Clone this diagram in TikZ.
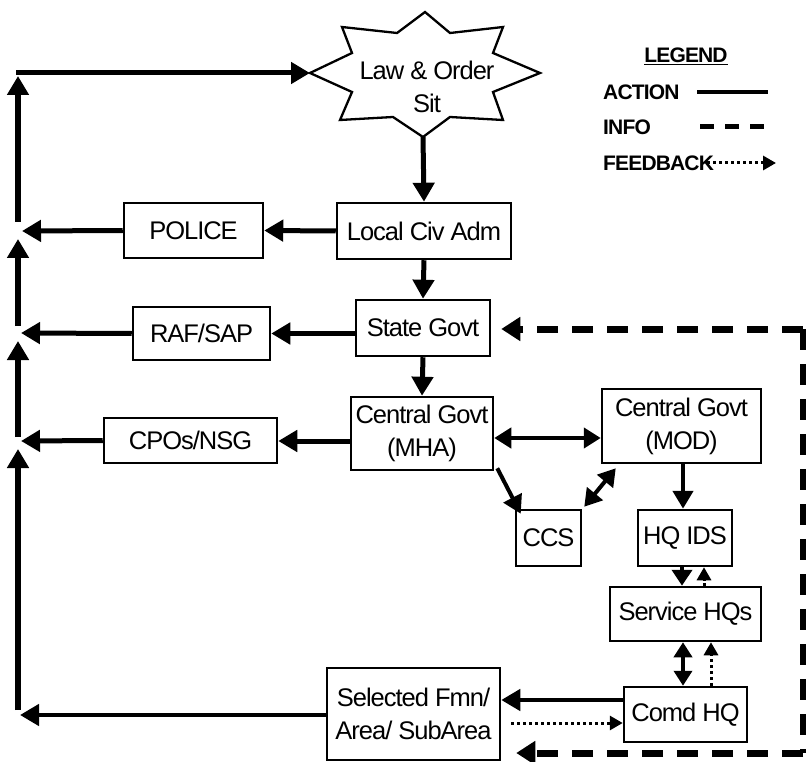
\documentclass[tikz,border=0pt]{standalone}
\usepackage{fontspec}
\setmainfont{Liberation Sans}[LetterSpace=-4]
\usetikzlibrary{arrows.meta,calc}
\begin{document}
\begin{tikzpicture}[x=1pt,y=-1pt,
  box/.style={draw,line width=2.5pt,inner sep=0pt,align=center,font=\fontsize{25.5}{33}\selectfont},
  txt/.style={inner sep=0pt,align=center,font=\fontsize{25.5}{33}\selectfont},
  leg/.style={inner sep=0pt,anchor=west,font=\fontsize{21}{24}\selectfont\bfseries},
  act/.style={line width=5pt,-{Triangle[length=19pt,width=21pt]}},
  acts/.style={line width=4.5pt,-{Triangle[length=18pt,width=20pt]}},
  dact/.style={line width=4.5pt,{Triangle[length=17pt,width=20pt]}-{Triangle[length=17pt,width=20pt]}},
  fb/.style={line width=3pt,dash pattern=on 3pt off 3pt,-{Triangle[length=13pt,width=14pt]}},
  info/.style={line width=7pt,dash pattern=on 21pt off 14pt},
]
\path[use as bounding box] (0,0) rectangle (806,762);

% star
\draw[line width=2.3pt,line join=miter,fill=white]
  (425,12) -- (450,33) -- (503,27) -- (493,53) -- (540,73) -- (493,92)
  -- (503,120) -- (450,117) -- (423,137) -- (393,117) -- (340,120)
  -- (352,92) -- (310,73) -- (352,53) -- (342,27) -- (397,33) -- cycle;
\node[txt] (law) at (427,87) {Law \& Order\\Sit};
\coordinate (starL) at (310,73);
\coordinate (starB) at (423,137);

% boxes
\node[box,minimum width=139pt,minimum height=55pt] (police) at (193.5,230.5) {POLICE};
\node[box,minimum width=137pt,minimum height=53pt] (raf) at (201.5,333.5) {RAF/SAP};
\node[box,minimum width=173pt,minimum height=45pt] (cpos) at (190.5,440.5) {CPOs/NSG};
\node[box,minimum width=174pt,minimum height=56pt] (local) at (424,231) {Local Civ Adm};
\node[box,minimum width=134pt,minimum height=56pt] (state) at (423,328) {State Govt};
\node[box,minimum width=142pt,minimum height=73pt] (mha) at (422,433.5) {Central Govt\\(MHA)};
\node[box,minimum width=159pt,minimum height=74pt] (mod) at (681.5,426) {Central Govt\\(MOD)};
\node[box,minimum width=65pt,minimum height=56pt] (ccs) at (548.5,538) {CCS};
\node[box,minimum width=94pt,minimum height=56pt] (hqids) at (685,538) {HQ IDS};
\node[box,minimum width=151pt,minimum height=54pt] (service) at (685.5,614) {Service HQs};
\node[box,minimum width=123pt,minimum height=55pt] (comd) at (685.5,714.5) {Comd HQ};
\node[box,minimum width=173pt,minimum height=92pt] (sel) at (413.5,714) {Selected Fmn/\\Area/ SubArea};

% left collector line
\coordinate (lp) at (22,231);
\coordinate (lr) at (21,333);
\coordinate (lc) at (21,441);
\coordinate (lb) at (20,715);
\coordinate (v0) at (18,710);
\coordinate (v1) at (18,449);
\coordinate (v2) at (18,437);
\coordinate (v3) at (18,341);
\coordinate (v4) at (18,326);
\coordinate (v5) at (18,239);
\coordinate (v6) at (18,222);
\coordinate (v7) at (18,76);
\coordinate (tl) at (16,73);

\draw[act,line width=5.5pt] (v0) -- (v1);
\draw[act,line width=5.5pt] (v2) -- (v3);
\draw[act,line width=5.5pt] (v4) -- (v5);
\draw[act,line width=5.5pt] (v6) -- (v7);
\draw[act] (tl) -- (starL);

% action connectors
\draw[act] (starB) -- (local.north);
\draw[act] (local.west) -- (police.east);
\draw[act] (police.west) -- (lp);
\draw[act] (local.south) -- (state.north);
\draw[act] (state.west |- raf.east) -- (raf.east);
\draw[act] (raf.west) -- (lr);
\draw[act] (state.south) -- (mha.north);
\draw[act] ($(mha.west)+(0,7.5)$) coordinate (mw) -- (mw -| cpos.east);
\draw[act] (cpos.west) -- (lc);
\draw[act,line width=4.5pt] (sel.west |- lb) -- (lb);
\draw[dact] ($(mha.east)+(0,4.5)$) -- ($(mod.west)+(0,12)$);
\draw[acts,line width=4pt] ($(mha.south east)+(3,-3)$) -- ($(ccs.north west)+(6,5)$);
\draw[dact,line width=4pt] ($(ccs.north east)+(2,-2)$) -- ($(mod.south west)+(15,4)$);
\draw[acts] (mod.south -| hqids.north) ++(-2,0) coordinate (m2) -- (m2 |- hqids.north);
\draw[acts,-{Triangle[length=16pt,width=20pt]}] ($(hqids.south)+(-3,0)$) coordinate (t1) -- (t1 |- service.north);
\draw[fb] ($(service.north)+(18.5,0)$) coordinate (t2) -- (t2 |- hqids.south);
\draw[dact,{Triangle[length=15pt,width=18pt]}-{Triangle[length=15pt,width=18pt]}] ($(service.south)+(-2.5,0)$) coordinate (t3) -- (t3 |- comd.north);
\draw[fb] ($(comd.north)+(25.5,0)$) coordinate (t4) -- (t4 |- service.south);
\draw[act,line width=4.5pt] ($(comd.west)+(0,-14.5)$) coordinate (c1) -- (c1 -| sel.east);
\draw[fb] ($(sel.east)+(10,9)$) coordinate (c2) -- (c2 -| comd.west);

% info dashed
\coordinate (ir1) at (803,329);
\coordinate (ir2) at (803,753);
\draw[info] (ir1) -- (ir2);
\draw[info,-{Triangle[length=19pt,width=23pt]}] (ir1) -- ($(state.east)+(10,1)$);
\draw[info,-{Triangle[length=19pt,width=23pt]}] (ir2) -- ($(sel.east)+(15,39)$);

% legend
\node[inner sep=0pt,font=\fontsize{21}{24}\selectfont\bfseries] (legend) at (686,56) {\underline{LEGEND}};
\node[leg] (lact) at (603,92) {ACTION};
\node[leg] (linfo) at (603,127) {INFO};
\node[leg] (lfb) at (603,163) {FEEDBACK};
\coordinate (a1) at (697,92);
\coordinate (a2) at (768,92);
\coordinate (i1) at (700,127);
\coordinate (i2) at (764,127);
\coordinate (f1) at (707,163);
\coordinate (f2) at (776,163);
\draw[line width=4.5pt] (a1) -- (a2);
\draw[line width=5pt,dash pattern=on 14pt off 11pt] (i1) -- (i2);
\draw[fb,line width=3pt] (f1) -- (f2);
\end{tikzpicture}
\end{document}
